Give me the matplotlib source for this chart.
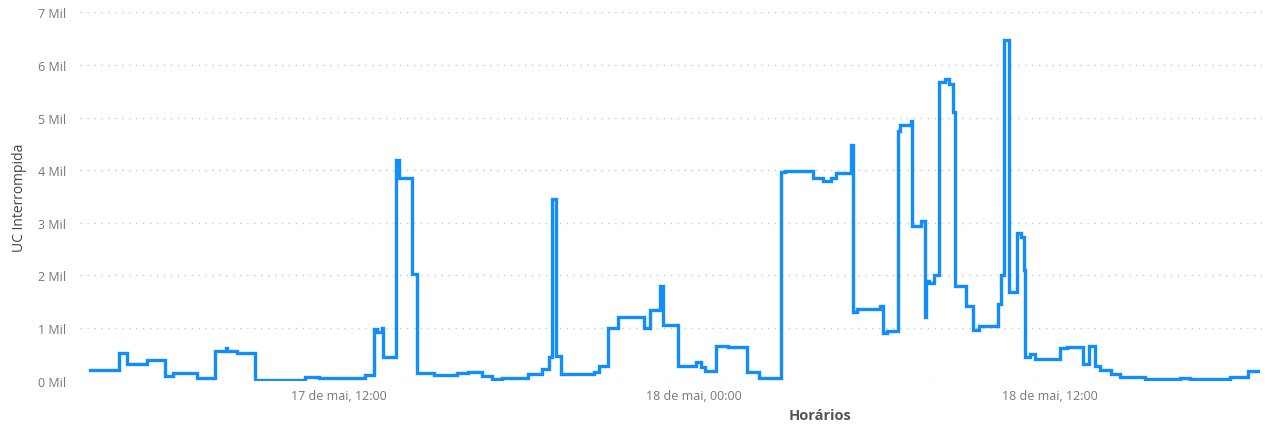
import matplotlib
matplotlib.use("Agg")
import matplotlib.pyplot as plt
from matplotlib.ticker import FuncFormatter, MultipleLocator
import pandas as pd

# Interrupted consumer units (UC) over time
horarios = [
    "2024-05-17 03:34", "2024-05-17 04:33", "2024-05-17 04:49", "2024-05-17 05:30",
    "2024-05-17 06:06", "2024-05-17 06:22", "2024-05-17 07:11", "2024-05-17 07:49",
    "2024-05-17 08:10", "2024-05-17 08:13", "2024-05-17 08:32", "2024-05-17 09:10",
    "2024-05-17 10:51", "2024-05-17 11:20", "2024-05-17 12:53", "2024-05-17 13:11",
    "2024-05-17 13:17", "2024-05-17 13:27", "2024-05-17 13:29", "2024-05-17 13:55",
    "2024-05-17 14:01", "2024-05-17 14:28", "2024-05-17 14:38", "2024-05-17 15:12",
    "2024-05-17 15:59", "2024-05-17 16:21", "2024-05-17 16:49", "2024-05-17 17:09",
    "2024-05-17 17:30", "2024-05-17 18:22", "2024-05-17 18:51", "2024-05-17 19:05",
    "2024-05-17 19:11", "2024-05-17 19:19", "2024-05-17 19:29", "2024-05-17 20:36",
    "2024-05-17 20:46", "2024-05-17 21:04", "2024-05-17 21:26", "2024-05-17 22:17",
    "2024-05-17 22:31", "2024-05-17 22:51", "2024-05-17 22:57", "2024-05-17 23:26",
    "2024-05-18 00:04", "2024-05-18 00:14", "2024-05-18 00:22", "2024-05-18 00:44",
    "2024-05-18 01:09", "2024-05-18 01:47", "2024-05-18 02:11", "2024-05-18 02:56",
    "2024-05-18 03:04", "2024-05-18 04:01", "2024-05-18 04:21", "2024-05-18 04:37",
    "2024-05-18 04:47", "2024-05-18 05:17", "2024-05-18 05:22", "2024-05-18 05:30",
    "2024-05-18 06:16", "2024-05-18 06:22", "2024-05-18 06:30", "2024-05-18 06:53",
    "2024-05-18 06:58", "2024-05-18 07:19", "2024-05-18 07:21", "2024-05-18 07:39",
    "2024-05-18 07:47", "2024-05-18 07:50", "2024-05-18 07:55", "2024-05-18 08:07",
    "2024-05-18 08:17", "2024-05-18 08:28", "2024-05-18 08:36", "2024-05-18 08:44",
    "2024-05-18 08:48", "2024-05-18 09:10", "2024-05-18 09:26", "2024-05-18 09:38",
    "2024-05-18 10:15", "2024-05-18 10:21", "2024-05-18 10:27", "2024-05-18 10:39",
    "2024-05-18 10:55", "2024-05-18 11:03", "2024-05-18 11:09", "2024-05-18 11:11",
    "2024-05-18 11:21", "2024-05-18 11:31", "2024-05-18 12:22", "2024-05-18 12:36",
    "2024-05-18 13:08", "2024-05-18 13:21", "2024-05-18 13:33", "2024-05-18 13:43",
    "2024-05-18 14:05", "2024-05-18 14:23", "2024-05-18 15:04", "2024-05-18 15:14",
    "2024-05-18 16:25", "2024-05-18 16:45", "2024-05-18 18:06", "2024-05-18 18:42",
    "2024-05-18 19:04",
]
uc_interrompida = [
    200, 520, 310, 400,
    90, 140, 50, 570,
    620, 570, 530, 10,
    75, 50, 100, 980,
    920, 1000, 450, 4200,
    3850, 2030, 140, 110,
    140, 160, 95, 30,
    50, 127, 222, 445,
    3450, 463, 127, 170,
    285, 1000, 1220, 1000,
    1350, 1800, 1060, 280,
    350, 255, 190, 665,
    635, 170, 50, 3960,
    3990, 3850, 3800, 3850,
    3940, 4470, 1300, 1360,
    1425, 900, 950, 4750,
    4860, 4940, 2930, 3040,
    1205, 1900, 1850, 2000,
    5670, 5735, 5630, 5100,
    1800, 1420, 960, 1040,
    1460, 2000, 6465, 1680,
    2800, 2730, 2100, 445,
    507, 410, 615, 640,
    320, 665, 285, 210,
    127, 65, 80, 32,
    45, 32, 65, 180,
    180,
]

tick_horarios = ["2024-05-17 12:00", "2024-05-18 00:00", "2024-05-18 12:00"]
x_inicio = "2024-05-17 03:14"
x_fim = "2024-05-18 19:11"

MESES = {5: "mai"}
AZUL = "#118DFF"

t = pd.to_datetime(horarios)

fig = plt.figure(figsize=(12.67, 4.27), dpi=100)
ax = fig.add_axes([0.063, 0.106, 0.933, 0.863])

ax.plot(t, uc_interrompida, drawstyle="steps-post", color=AZUL, linewidth=2.4,
        solid_joinstyle="miter")

ax.set_xlim(pd.Timestamp(x_inicio), pd.Timestamp(x_fim))
ax.set_ylim(0, 7000)

ax.yaxis.set_major_locator(MultipleLocator(1000))
ax.yaxis.set_major_formatter(FuncFormatter(lambda v, p: f"{int(v / 1000)} Mil"))

ticks = pd.to_datetime(tick_horarios)
ax.set_xticks(ticks)
ax.set_xticklabels([f"{d.day} de {MESES[d.month]}, {d:%H:%M}" for d in ticks])

ax.grid(axis="y", linestyle=(0, (1, 4)), color="#c8c8c8", linewidth=1)
ax.set_axisbelow(True)
for s in ax.spines.values():
    s.set_visible(False)
ax.tick_params(length=0, labelsize=9, labelcolor="#777777", pad=6)
ax.tick_params(axis="y", pad=10)
for lbl in ax.get_xticklabels() + ax.get_yticklabels():
    lbl.set_fontfamily("Open Sans")

ax.set_xlabel("Horários", fontsize=10.5, color="#555555", fontweight="bold",
              family="Open Sans")
ax.xaxis.set_label_coords(0.626, -0.075)
ax.set_ylabel("UC Interrompida", fontsize=10, color="#444444",
              family="Open Sans", labelpad=8)

fig.savefig("out.png", dpi=100)
